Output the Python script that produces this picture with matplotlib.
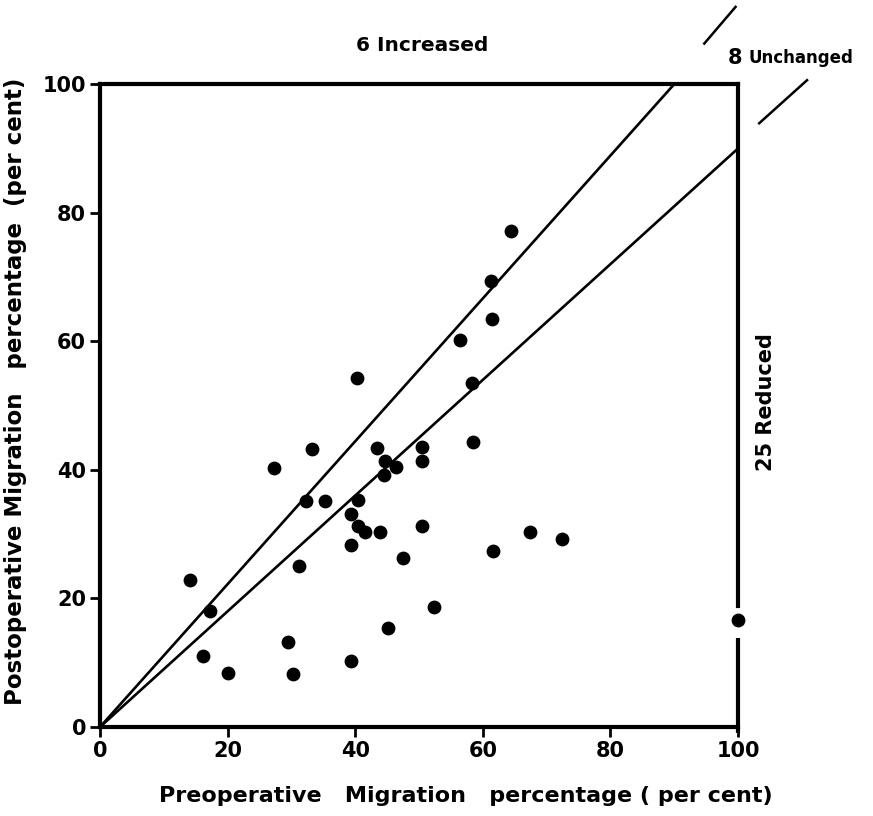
import matplotlib

matplotlib.use("Agg")

import numpy as np
import matplotlib.pyplot as plt

# preoperative / postoperative migration percentage, one entry per hip
pre_op = [14.1, 17.2, 16.2, 20.1, 29.4, 30.3, 31.2, 39.4, 39.4, 45.2,
          52.3, 27.2, 33.3, 32.3, 35.3, 40.3, 43.4, 44.6, 46.4, 44.5,
          50.4, 50.4, 58.4, 58.3, 56.4, 40.4, 39.4, 40.4, 41.5, 43.9,
          50.5, 47.5, 61.6, 67.4, 72.4, 64.4, 61.3, 61.5, 100.0]
post_op = [22.9, 18.1, 11.1, 8.4, 13.2, 8.3, 25.1, 10.2, 28.3, 15.4,
           18.6, 40.3, 43.3, 35.2, 35.2, 54.3, 43.4, 41.4, 40.4, 39.2,
           43.5, 41.4, 44.4, 53.5, 60.2, 35.3, 33.2, 31.3, 30.4, 30.4,
           31.3, 26.3, 27.4, 30.4, 29.3, 77.2, 69.3, 63.5, 16.6]

# +/- 10 per cent band lines through the origin
band_slopes = [1 / 0.9, 0.9]

ticks = [0, 20, 40, 60, 80, 100]

FONT = "DejaVu Sans"

fig = plt.figure(figsize=(8.73, 8.16), dpi=100)
ax = fig.add_axes([0.1145, 0.109, 0.731, 0.788])

xs = np.array([0, 100.0])
for k in band_slopes:
    ax.plot(xs, k * xs, color="black", lw=1.9, solid_capstyle="butt")

ax.scatter(pre_op, post_op, s=80, color="black", zorder=3, clip_on=False)

ax.set_xlim(0, 100)
ax.set_ylim(0, 100)
ax.set_xticks(ticks)
ax.set_yticks(ticks)
ax.set_xticklabels([str(t) for t in ticks], fontsize=15, fontweight="bold", family=FONT)
ax.set_yticklabels([str(t) for t in ticks], fontsize=15, fontweight="bold", family=FONT)
ax.tick_params(direction="out", length=7, width=2, pad=3)

for side in ("left", "bottom", "top"):
    ax.spines[side].set_linewidth(3)
ax.spines["right"].set_visible(False)

# right spine drawn by hand, broken around the point sitting on it
gap_x, gap_y = pre_op[-1], post_op[-1]
ax.plot([100, 100], [gap_y + 2.3, 100], color="black", lw=3, clip_on=False,
        solid_capstyle="projecting")
ax.plot([100, 100], [-1.0, gap_y - 2.8], color="black", lw=3, clip_on=False,
        solid_capstyle="butt")

ax.set_xlabel("Preoperative   Migration   percentage ( per cent)", fontsize=16,
              fontweight="bold", family=FONT)
ax.xaxis.set_label_coords(0.573, -0.092)
ax.set_ylabel("Postoperative Migration   percentage  (per cent)", fontsize=16.5,
              fontweight="bold", family=FONT)
ax.yaxis.set_label_coords(-0.114, 0.522)

# region annotations
ax.text(50.5, 106.0, "6 Increased", fontsize=14.5, fontweight="bold", family=FONT,
        ha="center", va="center", clip_on=False)
ax.text(98.3, 104.0, "8", fontsize=15, fontweight="bold", family=FONT,
        ha="left", va="center", clip_on=False)
ax.text(101.7, 104.0, "Unchanged", fontsize=12, fontweight="bold", family=FONT,
        ha="left", va="center", clip_on=False)
ax.text(104.3, 50.5, "25 Reduced", fontsize=15, fontweight="bold", family=FONT,
        rotation=90, ha="center", va="center", clip_on=False)

# little slashes marking the 'unchanged' band beyond the frame
ax.plot([94.7, 99.6], [106.3, 112.0], color="black", lw=1.8, clip_on=False)
ax.plot([103.3, 110.8], [93.9, 100.6], color="black", lw=1.8, clip_on=False)

fig.savefig("out.png", dpi=100, facecolor="white")
